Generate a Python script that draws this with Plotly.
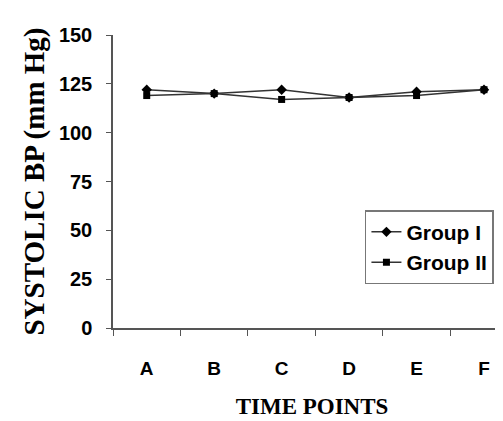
import plotly.graph_objects as go

time_points = ["A", "B", "C", "D", "E", "F"]
group1 = [122, 120, 122, 118, 121, 122]
group2 = [119, 120, 117, 118, 119, 122]
y_ticks = [0, 25, 50, 75, 100, 125, 150]

fig = go.Figure()
fig.add_trace(go.Scatter(x=time_points, y=group1, name="Group I", mode="lines+markers",
                         line=dict(color="#333333", width=1.5),
                         marker=dict(symbol="diamond", size=8, color="black")))
fig.add_trace(go.Scatter(x=time_points, y=group2, name="Group II", mode="lines+markers",
                         line=dict(color="#333333", width=1.5),
                         marker=dict(symbol="square", size=7, color="black")))

fig.update_layout(
    width=503, height=421,
    margin=dict(l=105, r=0, t=27, b=101),
    plot_bgcolor="white", paper_bgcolor="white",
    font=dict(family="Liberation Sans", color="black"),
    legend=dict(x=0.633, y=0.402, xanchor="left", yanchor="top",
                bordercolor="#777777", borderwidth=1.5, bgcolor="white",
                font=dict(family="Liberation Sans", size=21, color="black", weight="bold"),
                itemwidth=30, tracegroupgap=4),
    showlegend=True,
)
fig.update_xaxes(
    type="category", range=[-0.5, 5.4],
    showline=True, linecolor="#555555", linewidth=1.5,
    ticks="outside", tickson="boundaries", ticklen=6, tickcolor="#555555",
    showgrid=False, zeroline=False,
    tickfont=dict(family="Liberation Sans", size=19, color="black", weight="bold"),
    ticklabelstandoff=22,
    title=dict(text="<b>TIME POINTS</b>", font=dict(family="Liberation Serif", size=23, color="black"), standoff=20),
)
fig.update_yaxes(
    range=[0, 150], tickvals=y_ticks,
    showline=True, linecolor="#555555", linewidth=1.5,
    ticks="outside", ticklen=5, tickcolor="#555555",
    showgrid=False, zeroline=False,
    tickfont=dict(family="Liberation Sans", size=20, color="black", weight="bold"),
    ticklabelstandoff=10,
    title=dict(text="<b>SYSTOLIC BP (mm Hg)</b>", font=dict(family="Liberation Serif", size=29, color="black"), standoff=6),
)

fig.write_html("out.html")
